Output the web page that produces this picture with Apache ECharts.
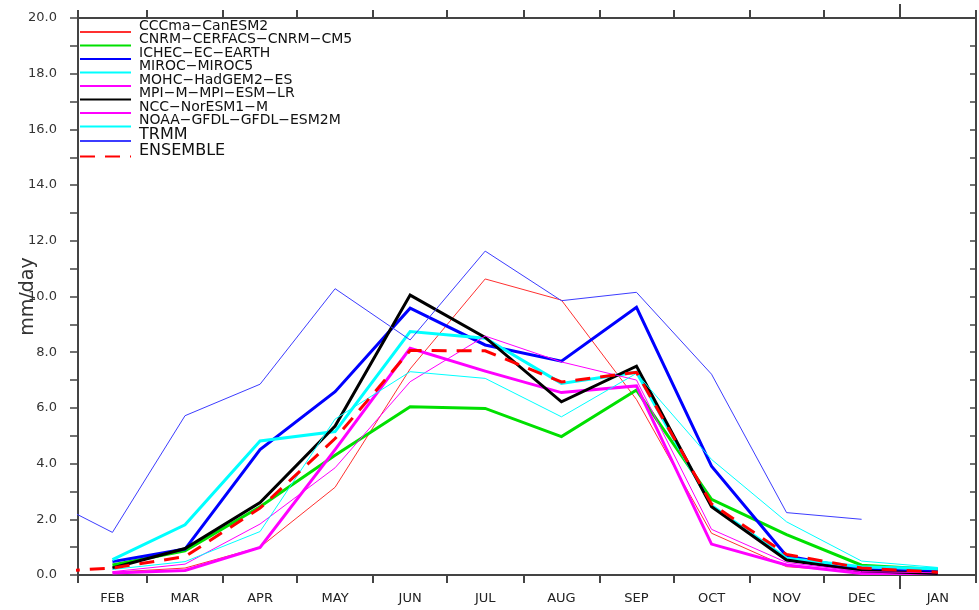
<!DOCTYPE html>
<html>
<head>
<meta charset="utf-8">
<script src="https://cdn.jsdelivr.net/npm/echarts@6/dist/echarts.min.js"></script>
<style>
html,body{margin:0;padding:0;background:#fff;}
#chart{width:979px;height:610px;}
</style>
</head>
<body>
<div id="chart"></div>
<script>
// ---- data ----
const months = ['FEB','MAR','APR','MAY','JUN','JUL','AUG','SEP','OCT','NOV','DEC','JAN'];
const monthDays = [28,31,30,31,30,31,31,30,31,30,31,31];
const yTickLabels = [0,2,4,6,8,10,12,14,16,18,20];

const cccma   = [0.10,0.25,1.00,3.15,7.40,10.63,9.87,6.30,1.50,0.30,0.10,0.02];
const cnrm    = [0.36,0.87,2.45,4.30,6.04,5.98,4.97,6.64,2.72,1.45,0.35,0.20];
const ichec   = [0.48,0.93,4.50,6.58,9.58,8.26,7.68,9.61,3.91,0.68,0.20,0.12];
const miroc   = [0.55,1.80,4.81,5.15,8.74,8.50,6.88,7.28,2.50,0.60,0.30,0.22];
const mohc    = [0.07,0.16,0.99,4.50,8.14,7.32,6.55,6.79,1.11,0.36,0.05,0.05];
const mpi     = [0.25,0.95,2.60,5.35,10.05,8.53,6.22,7.50,2.45,0.54,0.15,0.05];
const ncc     = [0.12,0.39,1.83,3.85,6.94,8.58,7.65,7.00,1.64,0.45,0.12,0.08];
const noaa    = [0.20,0.48,1.56,5.60,7.30,7.06,5.68,7.24,4.15,1.91,0.50,0.27];
const trmm    = [1.53,5.72,6.85,10.28,8.44,11.63,9.85,10.15,7.21,2.24,2.00,null];
const trmmPrevJan = 2.86;
const ensemble = [0.25,0.66,2.40,4.90,8.06,8.05,6.93,7.28,2.55,0.74,0.25,0.10];
const ensemblePrevJan = 0.10;

// ---- derived positions (day offset from 1 Feb) ----
const bounds = [0];
monthDays.forEach(d => bounds.push(bounds[bounds.length-1] + d));
const mids = monthDays.map((d,i) => bounds[i] + d/2);
const prevJanMid = -31/2;
const yearBreak = bounds[11];
const yTicks = [];
for (let v = 0; v <= 20; v++) yTicks.push(v);

function pts(vals, prev) {
  const out = [];
  if (prev !== undefined) out.push([prevJanMid, prev]);
  vals.forEach((v,i) => { if (v !== null) out.push([mids[i], v]); });
  return out;
}

const defs = [
  {name:'CCCma−CanESM2',        data:cccma, color:'#ff3030', width:1},
  {name:'CNRM−CERFACS−CNRM−CM5', data:cnrm,  color:'#00e000', width:3},
  {name:'ICHEC−EC−EARTH',       data:ichec, color:'#0000ff', width:3},
  {name:'MIROC−MIROC5',         data:miroc, color:'#00ffff', width:3},
  {name:'MOHC−HadGEM2−ES',      data:mohc,  color:'#ff00ff', width:3},
  {name:'MPI−M−MPI−ESM−LR',     data:mpi,   color:'#000000', width:3},
  {name:'NCC−NorESM1−M',        data:ncc,   color:'#ff00ff', width:1},
  {name:'NOAA−GFDL−GFDL−ESM2M', data:noaa,  color:'#00ffff', width:1},
  {name:'TRMM',                 data:trmm,  color:'#3c3cff', width:1, prev:trmmPrevJan},
  {name:'ENSEMBLE',             data:ensemble, color:'#ff0000', width:3, prev:ensemblePrevJan, dash:[15,10]}
];

const series = defs.map(d => ({
  name: d.name,
  type: 'line',
  xAxisIndex: 0, yAxisIndex: 0,
  data: pts(d.data, d.prev),
  symbol: 'none',
  clip: true,
  lineStyle: {color: d.color, width: d.width, type: d.dash ? d.dash : 'solid', join: 'miter'},
  itemStyle: {color: d.color},
  z: d.name === 'ENSEMBLE' ? 5 : 3
}));

const axisCol = '#444';
const grid = {left:78, top:18, width:898, height:557, containLabel: false, outerBoundsMode: 'none'};

const legendData = defs.map(d => {
  const big = (d.name === 'TRMM' || d.name === 'ENSEMBLE');
  return {name: d.name, textStyle: {fontSize: big ? 16 : 14}};
});

const option = {
  animation: false,
  backgroundColor: '#fff',
  grid: [Object.assign({}, grid), Object.assign({}, grid)],
  legend: {
    orient: 'vertical',
    left: 79, top: 19,
    padding: 0,
    itemWidth: 51, itemHeight: 14, itemGap: -12.5,
    data: legendData,
    formatter: name => name + '\n',
    itemStyle: {opacity: 0, borderWidth: 0},
    textStyle: {fontFamily: 'DejaVu Sans', color: '#111', fontSize: 14, lineHeight: 12, padding: [0,0,0,3]},
    selectedMode: false
  },
  xAxis: [
    {
      type: 'value', gridIndex: 0, position: 'bottom', min: 0, max: 365,
      axisLine: {show: true, onZero: false, lineStyle: {color: axisCol, width: 2}},
      axisTick: {show: true, inside: false, length: 8, customValues: bounds, lineStyle: {color: axisCol, width: 2}},
      axisLabel: {show: true, customValues: mids, margin: 17, fontFamily: 'DejaVu Sans', fontSize: 13, color: '#222',
        formatter: v => { const i = mids.indexOf(v); return i >= 0 ? months[i] : ''; }},
      splitLine: {show: false}
    },
    {
      type: 'value', gridIndex: 0, position: 'top', min: 0, max: 365,
      axisLine: {show: true, onZero: false, lineStyle: {color: axisCol, width: 2}},
      axisTick: {show: true, inside: false, length: 8, customValues: bounds, lineStyle: {color: axisCol, width: 2}},
      axisLabel: {show: false},
      splitLine: {show: false}
    },
    {
      type: 'value', gridIndex: 1, position: 'bottom', min: 0, max: 365,
      axisLine: {show: false},
      axisTick: {show: true, inside: false, length: 14, customValues: [yearBreak], lineStyle: {color: axisCol, width: 2}},
      axisLabel: {show: false},
      splitLine: {show: false}
    },
    {
      type: 'value', gridIndex: 1, position: 'top', min: 0, max: 365,
      axisLine: {show: false},
      axisTick: {show: true, inside: false, length: 14, customValues: [yearBreak], lineStyle: {color: axisCol, width: 2}},
      axisLabel: {show: false},
      splitLine: {show: false}
    }
  ],
  yAxis: [
    {
      type: 'value', gridIndex: 0, position: 'left', min: 0, max: 20, interval: 2,
      name: 'mm/day', nameLocation: 'middle', nameGap: 40, nameRotate: 90, nameMoveOverlap: false,
      nameTextStyle: {fontFamily: 'DejaVu Sans', fontSize: 19, color: '#333'},
      axisLine: {show: true, onZero: false, lineStyle: {color: axisCol, width: 2}},
      axisTick: {show: true, inside: false, length: 8, customValues: yTicks, lineStyle: {color: axisCol, width: 1.5}},
      axisLabel: {show: true, customValues: yTickLabels, margin: 21, fontFamily: 'DejaVu Sans', fontSize: 13, color: '#333',
        formatter: v => v.toFixed(1)},
      splitLine: {show: false}
    },
    {
      type: 'value', gridIndex: 0, position: 'right', min: 0, max: 20, interval: 2,
      axisLine: {show: true, onZero: false, lineStyle: {color: axisCol, width: 2}},
      axisTick: {show: true, inside: true, length: 6, customValues: yTicks, lineStyle: {color: axisCol, width: 1.5}},
      axisLabel: {show: false},
      splitLine: {show: false}
    },
    {
      type: 'value', gridIndex: 1, min: 0, max: 20, show: false
    }
  ],
  series: series
};

const chart = echarts.init(document.getElementById('chart'), null, {renderer: 'canvas'});
chart.setOption(option);
</script>
</body>
</html>
